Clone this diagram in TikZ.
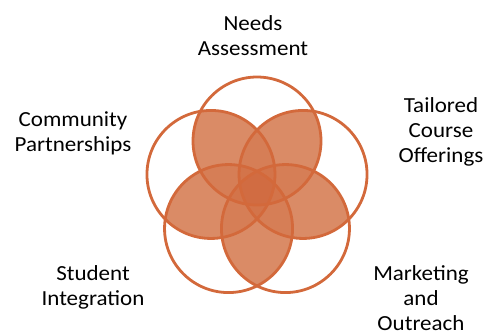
\documentclass[tikz,border=0pt]{standalone}
\usepackage{fontspec}
\setmainfont{Carlito}[FakeStretch=1.07]
\definecolor{ring}{HTML}{D3693B}
\definecolor{lvA}{HTML}{DA8B66}
\definecolor{lvB}{HTML}{D67E56}
\definecolor{lvC}{HTML}{D3744A}
\definecolor{lvD}{HTML}{D16C42}
\tikzset{
  lbl/.style={align=center, inner sep=0pt, font=\fontsize{21.5}{24.8}\selectfont, text=black, anchor=base},
  ringline/.style={draw=ring, line width=2.8pt}
}
\begin{document}
\begin{tikzpicture}[x=1pt,y=1pt]
\useasboundingbox (0,0) rectangle (486,-335);
\def\R{64}
\coordinate (o) at (257,-189.4);
\path (o) ++(90:48.4) coordinate (c1);
\path (o) ++(162:48.4) coordinate (c2);
\path (o) ++(234:48.4) coordinate (c3);
\path (o) ++(306:48.4) coordinate (c4);
\path (o) ++(18:48.4) coordinate (c5);
% two-fold overlaps
\foreach \i/\j in {1/2,1/3,1/4,1/5,2/3,2/4,2/5,3/4,3/5,4/5}{
  \begin{scope}\clip (c\i) circle (\R); \fill[lvA] (c\j) circle (\R);\end{scope}
}
% three-fold overlaps
\foreach \i/\j/\k in {1/2/3,1/2/4,1/2/5,1/3/4,1/3/5,1/4/5,2/3/4,2/3/5,2/4/5,3/4/5}{
  \begin{scope}\clip (c\i) circle (\R); \clip (c\j) circle (\R); \fill[lvB] (c\k) circle (\R);\end{scope}
}
% four-fold overlaps
\foreach \i/\j/\k/\l in {1/2/3/4,1/2/3/5,1/2/4/5,1/3/4/5,2/3/4/5}{
  \begin{scope}\clip (c\i) circle (\R); \clip (c\j) circle (\R); \clip (c\k) circle (\R); \fill[lvC] (c\l) circle (\R);\end{scope}
}
% five-fold overlap
\begin{scope}\clip (c1) circle (\R); \clip (c2) circle (\R); \clip (c3) circle (\R); \clip (c4) circle (\R); \fill[lvD] (c5) circle (\R);\end{scope}
% outlines
\foreach \i in {1,...,5}{ \draw[ringline] (c\i) circle (\R); }
% labels (anchored at the baseline of the last line)
\node[lbl] (needs) at (253,-55.7) {Needs\\Assessment};
\node[lbl] (community) at (73,-151.7) {Community\\Partnerships};
\node[lbl] (tailored) at (441,-162.3) {Tailored\\Course\\Offerings};
\node[lbl] (student) at (93,-305) {Student\\Integration};
\node[lbl] (marketing) at (421,-330) {Marketing\\and\\Outreach};
\end{tikzpicture}
\end{document}
